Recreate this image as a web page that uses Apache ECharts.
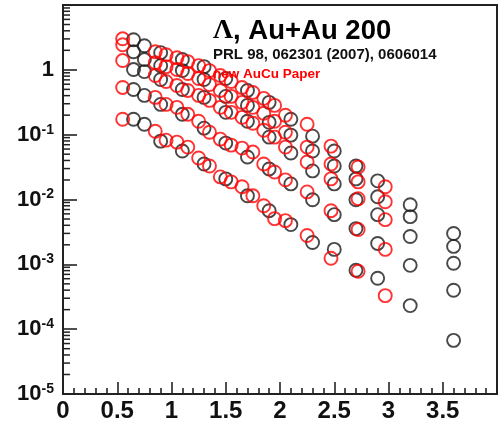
<!DOCTYPE html>
<html>
<head>
<meta charset="utf-8">
<script src="https://cdn.jsdelivr.net/npm/echarts@6/dist/echarts.min.js"></script>
<style>
html,body{margin:0;padding:0;background:#fff;}
#chart{width:500px;height:423px;}
</style>
</head>
<body>
<div id="chart"></div>
<script>
// x positions (pT, GeV/c)
const blackX = [0.65, 0.75, 0.9, 1.1, 1.3, 1.5, 1.7, 1.9, 2.1, 2.3, 2.5, 2.7, 2.9, 3.2, 3.6];
const redX = [0.55, 0.85, 0.95, 1.05, 1.15, 1.25, 1.35, 1.45, 1.55, 1.65, 1.75, 1.85, 1.95, 2.05, 2.25, 2.47, 2.72, 2.97];

// PRL 98, 062301 (2007) – black
const black1 = [2.91, 2.35, 1.84, 1.44, 1.12, 0.734, 0.481, 0.315, 0.173, 0.0948, 0.0559, 0.0329, 0.0194, 0.00831, 0.00299];
const black2 = [1.90, 1.44, 1.16, 0.974, 0.709, 0.389, 0.283, 0.155, 0.0984, 0.0559, 0.0329, 0.0208, 0.0110, 0.00544, 0.00189];
const black3 = [1.01, 0.94, 0.709, 0.498, 0.376, 0.221, 0.161, 0.0915, 0.0521, 0.0276, 0.0174, 0.00991, 0.00584, 0.00269, 0.00104];
const black4 = [0.498, 0.403, 0.293, 0.206, 0.126, 0.0741, 0.0452, 0.0296, 0.0174, 0.00991, 0.00584, 0.00356, 0.0021, 0.000965, 0.000398];
const black5 = [0.173, 0.145, 0.0795, 0.0559, 0.0353, 0.0208, 0.0114, 0.00672, 0.0041, 0.00217, 0.0017, 0.000809, 0.00061, 0.000231, 0.0000672];

// new AuCu Paper – red
const red1 = [3.01, 1.90, 1.71, 1.54, 1.34, 1.16, 0.974, 0.816, 0.660, 0.535, 0.448, 0.363, 0.283, 0.199, 0.145, 0.0666, 0.0318, 0.0157];
const red2 = [2.44, 1.29, 1.12, 1.01, 0.876, 0.734, 0.594, 0.481, 0.389, 0.315, 0.264, 0.214, 0.161, 0.109, 0.0643, 0.0353, 0.0187, 0.00924];
const red3 = [1.39, 0.816, 0.660, 0.574, 0.481, 0.403, 0.338, 0.264, 0.221, 0.185, 0.150, 0.117, 0.0915, 0.0643, 0.0379, 0.0208, 0.0103, 0.00489];
const red4 = [0.535, 0.376, 0.293, 0.264, 0.206, 0.161, 0.109, 0.0853, 0.069, 0.0621, 0.0539, 0.0353, 0.0266, 0.0201, 0.0131, 0.00672, 0.00344, 0.0017];
const red5 = [0.173, 0.113, 0.0823, 0.0767, 0.0643, 0.0436, 0.0329, 0.0223, 0.0187, 0.0157, 0.0114, 0.00802, 0.00507, 0.00472, 0.00278, 0.00124, 0.000781, 0.000329];

const xTickLabels = ['0', '0.5', '1', '1.5', '2', '2.5', '3', '3.5'];
const yDecades = [-5, -4, -3, -2, -1, 0];

const titleMain = 'Λ';
const titleRest = ', Au+Au 200';
const refText = 'PRL 98, 062301 (2007), 0606014';
const newText = 'new AuCu Paper';

const BLACK = '#1a1a1a';
const RED = '#ff0000';

function pairs(xs, ys) { return xs.map((x, i) => [x, ys[i]]); }

// minor tick positions of the log axis (2..9 × 10^d)
const minorVals = [];
yDecades.forEach(d => { for (let m = 2; m <= 9; m++) minorVals.push(m * Math.pow(10, d)); });

function scatter(name, data, color) {
  return {
    name: name, type: 'scatter', data: data,
    symbol: 'circle', symbolSize: 13,
    itemStyle: { color: 'rgba(0,0,0,0)', borderColor: color, borderWidth: 1.9 },
    silent: true, z: 3
  };
}

const chart = echarts.init(document.getElementById('chart'), null, { renderer: 'canvas' });
const FONT = '"Liberation Sans", Arial, sans-serif';

chart.setOption({
  backgroundColor: '#fff',
  animation: false,
  grid: { left: 63, top: 5, right: -13, bottom: 26.5, show: true, borderColor: '#222', borderWidth: 2, backgroundColor: 'rgba(0,0,0,0)' },
  xAxis: {
    type: 'value', min: 0, max: 4, interval: 0.5,
    axisLine: { show: true, lineStyle: { color: '#222', width: 2 } },
    axisTick: { show: true, inside: true, length: 12, lineStyle: { color: '#222', width: 1.6 } },
    minorTick: { show: true, splitNumber: 5, length: 6, lineStyle: { color: '#222', width: 1.6 } },
    splitLine: { show: false },
    axisLabel: {
      margin: 5, color: '#111', fontSize: 24, fontWeight: 'bold', fontFamily: FONT,
      formatter: function (v) { const i = Math.round(v / 0.5); return (i >= 0 && i < xTickLabels.length) ? xTickLabels[i] : ''; }
    }
  },
  yAxis: {
    type: 'log', logBase: 10, min: 1e-5, max: 10,
    axisLine: { show: true, lineStyle: { color: '#222', width: 2 } },
    axisTick: { show: true, inside: true, length: 14, lineStyle: { color: '#222', width: 1.6 } },
    splitLine: { show: false },
    axisLabel: {
      margin: 9, color: '#111', fontFamily: FONT,
      formatter: function (v) {
        const e = Math.round(Math.log10(v));
        if (e > 0) return '';
        if (e === 0) return '{a|1}';
        return '{a|10}{b|' + e + '}';
      },
      rich: {
        a: { fontSize: 22, fontWeight: 'bold', fontFamily: FONT, color: '#111', lineHeight: 24 },
        b: { fontSize: 14, fontWeight: 'bold', fontFamily: FONT, color: '#111', verticalAlign: 'top', lineHeight: 14, padding: [0, 0, 10, 0] }
      }
    }
  },
  series: [
    {
      type: 'custom', silent: true, clip: false, z: 4,
      data: minorVals.map(v => [0, v]),
      renderItem: function (params, api) {
        const p = api.coord([api.value(0), api.value(1)]);
        return { type: 'line', shape: { x1: p[0], y1: p[1], x2: p[0] + 7, y2: p[1] }, style: { stroke: '#222', lineWidth: 1.5 } };
      }
    },
    scatter('b1', pairs(blackX, black1), BLACK),
    scatter('b2', pairs(blackX, black2), BLACK),
    scatter('b3', pairs(blackX, black3), BLACK),
    scatter('b4', pairs(blackX, black4), BLACK),
    scatter('b5', pairs(blackX, black5), BLACK),
    scatter('r1', pairs(redX, red1), RED),
    scatter('r2', pairs(redX, red2), RED),
    scatter('r3', pairs(redX, red3), RED),
    scatter('r4', pairs(redX, red4), RED),
    scatter('r5', pairs(redX, red5), RED)
  ],
  graphic: [
    {
      type: 'text', x: 213, y: 31, z: 10,
      style: {
        text: '{g|' + titleMain + '}{t|' + titleRest + '}',
        verticalAlign: 'middle', fill: '#000',
        rich: {
          g: { fontSize: 28, fontWeight: 'bold', fontFamily: '"Liberation Serif", "Times New Roman", serif', fill: '#000' },
          t: { fontSize: 27.5, fontWeight: 'bold', fontFamily: FONT, fill: '#000' }
        }
      }
    },
    {
      type: 'text', x: 213, y: 55, z: 10,
      style: { text: refText, verticalAlign: 'middle', fill: '#111', fontSize: 15, fontWeight: 'bold', fontFamily: FONT }
    },
    {
      type: 'text', x: 213, y: 74, z: 10,
      style: { text: newText, verticalAlign: 'middle', fill: RED, fontSize: 13.5, fontWeight: 'bold', fontFamily: FONT }
    }
  ]
});
</script>
</body>
</html>
